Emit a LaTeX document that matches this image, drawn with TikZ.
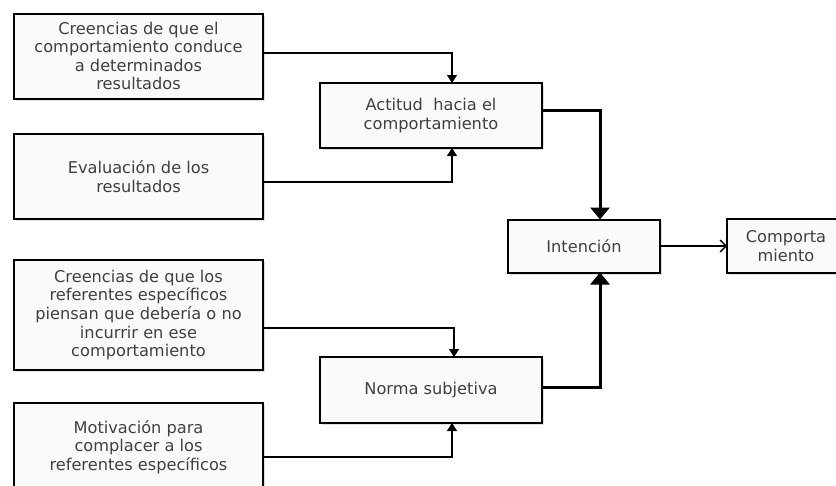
\documentclass[tikz,border=0pt]{standalone}
\usepackage{fontspec}
\setsansfont{DejaVu Sans}
\usetikzlibrary{arrows.meta,shadows}

\tikzset{
  caja/.style={draw, line width=2pt, fill=black!2, inner sep=0pt, outer sep=0pt,
    align=center, font=\sffamily\fontsize{16.2}{18.6}\selectfont, text=black!75,
    drop shadow={shadow xshift=2pt, shadow yshift=-2pt, opacity=0.25}},
  flecha/.style={line width=1.4pt, -{Triangle[length=8pt,width=10pt]}},
  gruesa/.style={line width=3pt, -{Triangle[length=12pt,width=19pt]}},
  abierta/.style={line width=1.4pt, -{Straight Barb[length=6pt,width=12pt]}}
}

\begin{document}
\begin{tikzpicture}[x=1pt,y=-1pt]
  \useasboundingbox (0,0) rectangle (836,485);
  \clip (0,0) rectangle (836,485);

  % cajas de la izquierda
  \node[caja, minimum width=249pt, minimum height=85pt] (creen1) at (138.5,56)
    {Creencias de que el\\comportamiento conduce\\a determinados\\resultados};
  \node[caja, minimum width=249pt, minimum height=85pt] (eval) at (138.5,176.5)
    {Evaluación de los\\resultados};
  \node[caja, minimum width=249pt, minimum height=110pt] (creen2) at (138.5,315)
    {Creencias de que los\\referentes específicos\\piensan que debería o no\\incurrir en ese\\comportamiento};
  \node[caja, minimum width=249pt, minimum height=88pt] (motiv) at (138.5,447)
    {Motivación para\\complacer a los\\referentes específicos};

  % cajas del centro
  \node[caja, minimum width=222pt, minimum height=65pt] (actitud) at (431,115.5)
    {Actitud\ \ hacia el\\comportamiento};
  \node[caja, minimum width=222pt, minimum height=66pt] (norma) at (431,390)
    {Norma subjetiva};
  \node[caja, minimum width=152pt, minimum height=53pt] (intencion) at (584,246)
    {Intención};
  \node[caja, minimum width=118pt, minimum height=54pt] (comport) at (786,246)
    {Comporta\\miento};

  % conectores
  \draw[flecha] ([yshift=3pt]creen1.east) -| ([xshift=21pt]actitud.north);
  \draw[flecha] ([yshift=-5.5pt]eval.east) -| ([xshift=21pt]actitud.south);
  \draw[flecha] ([yshift=-13pt]creen2.east) -| ([xshift=23pt]norma.north);
  \draw[flecha] ([yshift=-10pt]motiv.east) -| ([xshift=21pt]norma.south);
  \draw[gruesa] ([yshift=5.5pt]actitud.east) -| ([xshift=16pt]intencion.north);
  \draw[gruesa] ([yshift=3pt]norma.east) -| ([xshift=16pt]intencion.south);
  \draw[abierta] (intencion.east) -- (comport.west);
\end{tikzpicture}
\end{document}
